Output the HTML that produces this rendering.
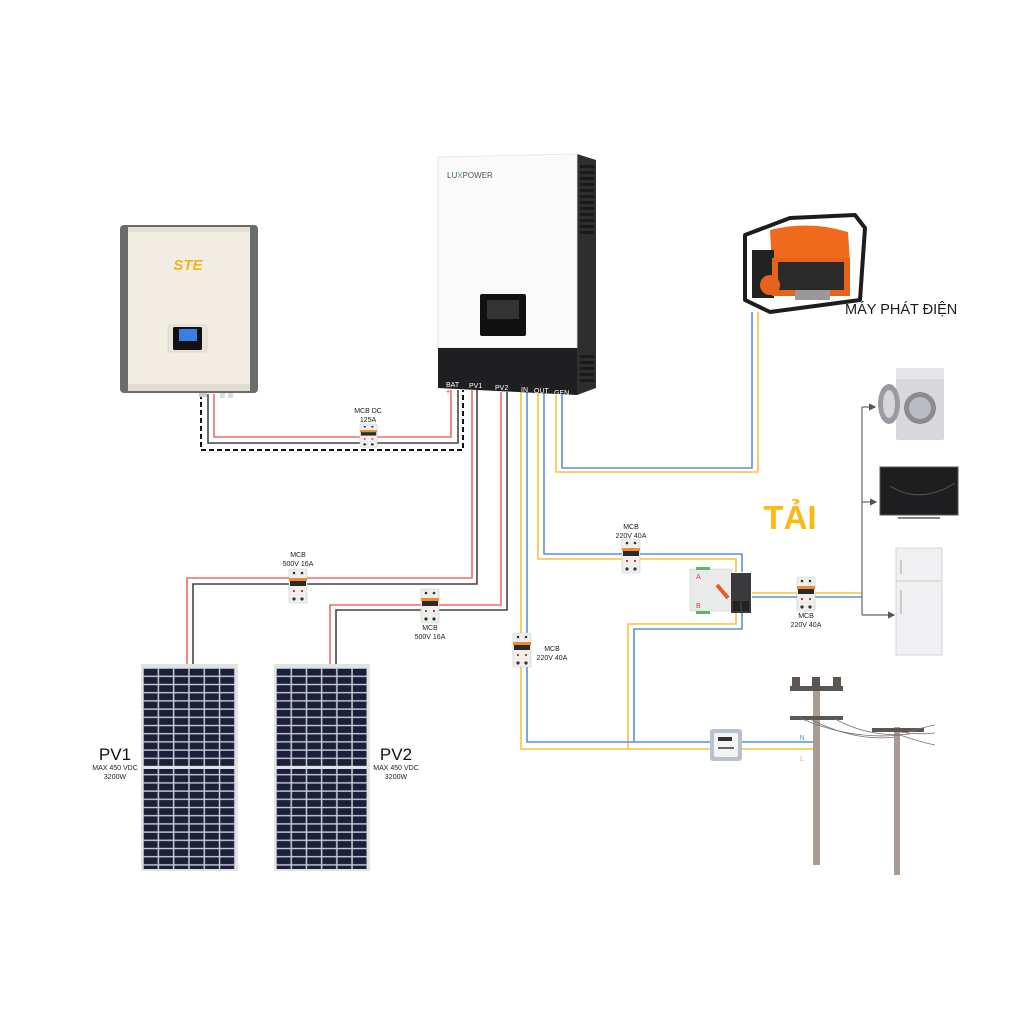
<!DOCTYPE html>
<html><head><meta charset="utf-8"><style>
html,body{margin:0;padding:0;background:#fff}
svg{display:block}
text{font-family:"Liberation Sans","Noto Sans CJK SC",sans-serif}
</style></head><body>
<svg width="1024" height="1024" viewBox="0 0 1024 1024" xmlns="http://www.w3.org/2000/svg">
<defs>
<pattern id="cells" x="143" y="668" width="15.3" height="8.2" patternUnits="userSpaceOnUse">
<rect width="15.3" height="8.2" fill="#c9ccd6"/>
<rect x="0.8" y="0.8" width="13.8" height="6.8" fill="#1c1f3a"/>
</pattern>
<pattern id="cells2" x="276" y="668" width="15.2" height="8.2" patternUnits="userSpaceOnUse">
<rect width="15.2" height="8.2" fill="#c9ccd6"/>
<rect x="0.8" y="0.8" width="13.7" height="6.8" fill="#1c1f3a"/>
</pattern>
<marker id="ar" markerWidth="6" markerHeight="6" refX="5" refY="3" orient="auto"><path d="M0,0 L6,3 L0,6 z" fill="#555"/></marker>
<g id="mcb">
<rect x="0" y="0" width="18" height="34" rx="1.5" fill="#eef0ee" stroke="#c8cbc8" stroke-width="0.6"/>
<rect x="0" y="9" width="18" height="3" fill="#f08a2a"/>
<rect x="1" y="12" width="16" height="5" fill="#2a2a2a"/>
<circle cx="5" cy="4" r="1.3" fill="#333"/><circle cx="13" cy="4" r="1.3" fill="#333"/>
<circle cx="5" cy="30" r="1.6" fill="#333"/><circle cx="13" cy="30" r="1.6" fill="#333"/>
<rect x="4" y="21" width="2" height="2" fill="#d33"/><rect x="12" y="21" width="2" height="2" fill="#d33"/>
</g>
</defs>

<g fill="none" stroke-width="1.6">
<path d="M214 394 V437 H451 V390" stroke="#f26b6b"/>
<path d="M208 394 V443 H458 V390" stroke="#444"/>
<path d="M201 394 V450 H463 V390" stroke="#111" stroke-dasharray="5,3" stroke-width="2"/>
<path d="M472 390 V578 H187 V668" stroke="#f26b6b"/>
<path d="M477 390 V584 H193 V668" stroke="#444"/>
<path d="M501 392 V605 H330 V668" stroke="#f26b6b"/>
<path d="M507 392 V610 H336 V668" stroke="#444"/>
<path d="M562 392 V468 H752 V312" stroke="#5b8fdc"/>
<path d="M556 392 V472 H758 V312" stroke="#f8c23a"/>
<path d="M544 392 V554 H742 V572" stroke="#5b8fdc"/>
<path d="M538 392 V559 H736 V572" stroke="#f8c23a"/>
<path d="M742 612 V629 H634 V742" stroke="#5b8fdc"/>
<path d="M736 612 V624 H628 V749" stroke="#f8c23a"/>
<path d="M527 392 V742 H815" stroke="#5b8fdc"/>
<path d="M521 392 V749 H815" stroke="#f8c23a"/>
<path d="M752 597 H862" stroke="#5b8fdc"/>
<path d="M752 593 H862" stroke="#f8c23a"/>
</g>
<g fill="none" stroke="#666" stroke-width="1.2">
<path d="M862 407 V615"/>
<path d="M862 407 H875" marker-end="url(#ar)"/>
<path d="M862 502 H876" marker-end="url(#ar)"/>
<path d="M862 615 H894" marker-end="url(#ar)"/>
</g>

<rect x="120" y="225" width="138" height="168" rx="4" fill="#6b6b6b"/>
<rect x="128" y="227" width="122" height="164" fill="#f1ede3"/>
<rect x="128" y="227" width="122" height="5" fill="#e4e0d6"/>
<rect x="128" y="384" width="122" height="7" fill="#e0dcd2"/>
<text x="188" y="270" font-size="15" font-weight="bold" fill="#f6b21c" text-anchor="middle" font-style="italic">STE</text>
<rect x="168" y="325" width="39" height="27" rx="2" fill="#e8e4da" stroke="#d0ccc2" stroke-width="0.6"/>
<rect x="173" y="327" width="29" height="23" rx="1.5" fill="#111"/>
<rect x="179" y="329" width="18" height="12" fill="#3a7fe0"/>
<rect x="199" y="393" width="8" height="4" fill="#ccc"/><rect x="220" y="393" width="5" height="5" fill="#ddd"/><rect x="228" y="393" width="5" height="5" fill="#ddd"/>

<path d="M577 154 L596 160 L596 388 L577 395 Z" fill="#2e2e30"/>
<g fill="#1a1a1a">
<rect x="580" y="165" width="14" height="3"/><rect x="580" y="171" width="14" height="3"/><rect x="580" y="177" width="14" height="3"/><rect x="580" y="183" width="14" height="3"/><rect x="580" y="189" width="14" height="3"/><rect x="580" y="195" width="14" height="3"/><rect x="580" y="201" width="14" height="3"/><rect x="580" y="207" width="14" height="3"/><rect x="580" y="213" width="14" height="3"/><rect x="580" y="219" width="14" height="3"/><rect x="580" y="225" width="14" height="3"/><rect x="580" y="231" width="14" height="3"/>
<rect x="580" y="355" width="14" height="3"/><rect x="580" y="361" width="14" height="3"/><rect x="580" y="367" width="14" height="3"/><rect x="580" y="373" width="14" height="3"/><rect x="580" y="379" width="14" height="3"/>
</g>
<path d="M438 157 L577 154 L577 348 L438 348 Z" fill="#fafafa" stroke="#e2e2e2" stroke-width="0.8"/>
<path d="M438 348 L577 348 L577 395 L438 388 Z" fill="#1f1f21"/>
<text x="447" y="178" font-size="8" fill="#555">LU<tspan fill="#4caf50">X</tspan>POWER</text>
<rect x="480" y="294" width="46" height="42" rx="2" fill="#111"/>
<rect x="487" y="300" width="32" height="19" fill="#333"/>
<g font-size="7" fill="#fff">
<text x="446" y="387">BAT</text><text x="469" y="388">PV1</text><text x="495" y="390">PV2</text><text x="521" y="392">IN</text><text x="534" y="393">OUT</text><text x="554" y="395">GEN</text>
</g>
<text x="446" y="394" font-size="7" fill="#e33">+</text>

<use href="#mcb" transform="translate(360 424) scale(0.95 0.68)"/>
<use href="#mcb" x="289" y="569"/>
<use href="#mcb" x="421" y="589"/>
<use href="#mcb" x="513" y="633"/>
<use href="#mcb" x="622" y="539"/>
<use href="#mcb" x="797" y="577"/>
<g font-size="7" fill="#222" text-anchor="middle">
<text x="368" y="413">MCB DC</text><text x="368" y="422">125A</text>
<text x="298" y="557">MCB</text><text x="298" y="566">500V 16A</text>
<text x="430" y="630">MCB</text><text x="430" y="639">500V 16A</text>
<text x="552" y="651">MCB</text><text x="552" y="660">220V 40A</text>
<text x="631" y="529">MCB</text><text x="631" y="538">220V 40A</text>
<text x="806" y="618">MCB</text><text x="806" y="627">220V 40A</text>
</g>

<rect x="690" y="569" width="42" height="42" fill="#e9ebea" stroke="#cfd2d0" stroke-width="0.6"/>
<rect x="696" y="567" width="14" height="3" fill="#5cb85c"/><rect x="696" y="611" width="14" height="3" fill="#5cb85c"/>
<text x="696" y="579" font-size="7" fill="#e33">A</text><text x="696" y="608" font-size="7" fill="#e33">B</text>
<path d="M717 585 L728 598" stroke="#f05a22" stroke-width="4"/>
<rect x="731" y="573" width="20" height="40" fill="#3a3a3c"/>
<rect x="733" y="601" width="7" height="10" fill="#222"/><rect x="742" y="601" width="7" height="10" fill="#222"/>

<!-- generator -->
<path d="M770 230 Q810 220 848 232 L850 262 L772 266 Z" fill="#f06a1e"/>
<rect x="752" y="250" width="22" height="48" fill="#222"/>
<rect x="772" y="258" width="78" height="38" fill="#e8621c"/>
<rect x="778" y="262" width="66" height="28" fill="#2a2a2a"/>
<circle cx="770" cy="285" r="10" fill="#e8621c"/>
<rect x="795" y="290" width="35" height="10" fill="#999"/>
<path d="M745 235 L790 218 L855 215 L865 228 L860 300 L770 312 L745 300 Z" fill="none" stroke="#1d1d1d" stroke-width="4" stroke-linejoin="round"/>
<text x="845" y="314" font-size="14.5" fill="#1a1a1a">MÁY PHÁT ĐIỆN</text>

<rect x="896" y="368" width="48" height="72" rx="2" fill="#d8d8dc"/>
<rect x="896" y="368" width="48" height="11" fill="#e6e6e9"/>
<circle cx="920" cy="408" r="16" fill="#8b8b90"/><circle cx="920" cy="408" r="11" fill="#b9bcc2"/>
<ellipse cx="889" cy="404" rx="11" ry="20" fill="#9a9aa0"/><ellipse cx="889" cy="404" rx="6" ry="14" fill="#d5d7da"/>
<rect x="880" y="467" width="78" height="48" fill="#1e1e20" stroke="#555" stroke-width="1"/>
<path d="M890 486 Q920 505 955 483" stroke="#555" fill="none"/>
<path d="M898 518 H940" stroke="#888" stroke-width="2"/>
<rect x="896" y="548" width="46" height="107" fill="#f0f0f2" stroke="#d6d6d8" stroke-width="1"/>
<line x1="896" y1="581" x2="942" y2="581" stroke="#ccc"/>
<rect x="900" y="560" width="2" height="14" fill="#ccc"/><rect x="900" y="590" width="2" height="24" fill="#ccc"/>
<text x="790" y="529" font-size="33" font-weight="bold" fill="#fdb913" text-anchor="middle">TẢI</text>

<rect x="710" y="729" width="32" height="32" rx="3" fill="#b9c2cc"/>
<rect x="714" y="733" width="24" height="24" rx="2" fill="#f3f4f6"/>
<rect x="718" y="737" width="14" height="4" fill="#333"/>
<rect x="718" y="747" width="16" height="2" fill="#666"/>
<text x="802" y="740" font-size="7" fill="#3aa0e8" text-anchor="middle">N</text>
<text x="802" y="761" font-size="7" fill="#f5a35a" text-anchor="middle">L</text>

<g fill="#a79d96">
<rect x="813" y="688" width="7" height="177"/>
<rect x="894" y="727" width="6" height="148"/>
</g>
<g fill="#5c5552">
<rect x="790" y="686" width="53" height="5"/><rect x="792" y="677" width="8" height="10"/><rect x="812" y="677" width="8" height="10"/><rect x="833" y="677" width="8" height="10"/>
<rect x="790" y="716" width="53" height="4"/>
<rect x="872" y="728" width="52" height="4"/>
</g>
<g fill="none" stroke="#7a7370" stroke-width="0.8">
<path d="M800 718 Q850 740 900 735"/><path d="M810 719 Q855 742 895 737"/><path d="M835 719 Q870 738 910 734"/>
<path d="M900 735 Q920 742 935 745"/><path d="M900 732 Q920 735 935 733"/><path d="M905 733 Q920 728 935 725"/>
</g>

<rect x="141" y="664" width="97" height="207" fill="#e0e2e6"/>
<rect x="143" y="668" width="92" height="98" fill="url(#cells)"/>
<rect x="143" y="769" width="92" height="100" fill="url(#cells)"/>
<rect x="274" y="664" width="96" height="207" fill="#e0e2e6"/>
<rect x="276" y="668" width="91" height="98" fill="url(#cells2)"/>
<rect x="276" y="769" width="91" height="100" fill="url(#cells2)"/>
<text x="115" y="760" font-size="17" fill="#111" text-anchor="middle">PV1</text>
<text x="115" y="770" font-size="7" fill="#222" text-anchor="middle">MAX 450 VDC</text>
<text x="115" y="779" font-size="7" fill="#222" text-anchor="middle">3200W</text>
<text x="396" y="760" font-size="17" fill="#111" text-anchor="middle">PV2</text>
<text x="396" y="770" font-size="7" fill="#222" text-anchor="middle">MAX 450 VDC</text>
<text x="396" y="779" font-size="7" fill="#222" text-anchor="middle">3200W</text>
</svg>
</body></html>
